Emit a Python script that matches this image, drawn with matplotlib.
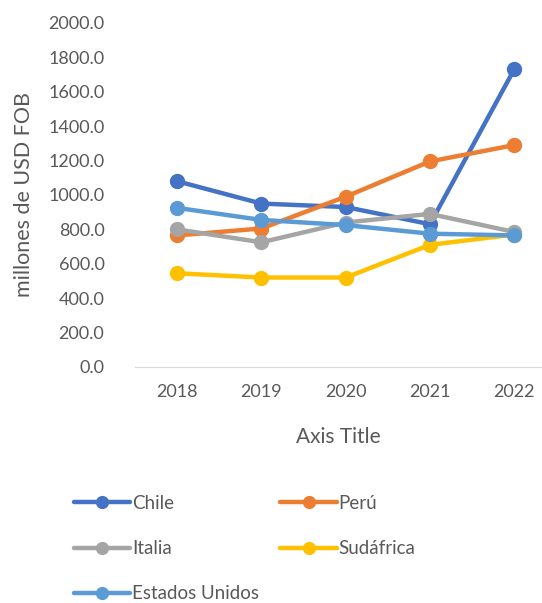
import matplotlib.pyplot as plt
import matplotlib as mpl

mpl.rcParams['font.family'] = ['Lato', 'DejaVu Sans']

years = ['2018', '2019', '2020', '2021', '2022']
series_names = ['Chile', 'Perú', 'Italia', 'Sudáfrica', 'Estados Unidos']
chile = [1080, 950, 930, 830, 1730]
peru = [765, 805, 990, 1195, 1290]
italia = [800, 725, 840, 890, 785]
sudafrica = [545, 520, 520, 710, 770]
eeuu = [925, 855, 825, 775, 765]
colors = ['#4472C4', '#ED7D31', '#A5A5A5', '#FFC000', '#5B9BD5']
txt = '#595959'

fig = plt.figure(figsize=(5.42, 6.03), dpi=100)
ax = fig.add_axes([0.249, 0.3914, 0.751, 0.5705])

x = range(len(years))
lines = {}
for name, vals, c in zip(series_names, [chile, peru, italia, sudafrica, eeuu], colors):
    ln, = ax.plot(x, vals, color=c, linewidth=3.2, marker='o', markersize=10,
                  label=name, solid_capstyle='round')
    lines[name] = ln

ax.set_xlim(-0.5, 4.33)
ax.set_ylim(0, 2000)
ax.set_yticks(range(0, 2001, 200))
ax.set_yticklabels([f'{v:.1f}' for v in range(0, 2001, 200)])
ax.set_xticks(list(x))
ax.set_xticklabels(years)
ax.tick_params(axis='both', length=0, labelsize=13, colors=txt, pad=12)
ax.tick_params(axis='y', pad=22)

for s in ['top', 'right', 'left']:
    ax.spines[s].set_visible(False)
ax.spines['bottom'].set_color('#D9D9D9')

ax.set_xlabel('Axis Title', fontsize=15, color=txt, labelpad=20)
ax.set_ylabel('millones de USD FOB', fontsize=15.5, color=txt, labelpad=10)

# row-major legend order (matplotlib fills columns first)
order = ['Chile', 'Italia', 'Estados Unidos', 'Perú', 'Sudáfrica']
fig.legend([lines[n] for n in order], order,
           loc='upper left', bbox_to_anchor=(0.105, 0.207), ncol=2, frameon=False,
           fontsize=13.5, labelcolor=txt, handlelength=3.0, handletextpad=0.1,
           columnspacing=1.15, labelspacing=1.5, markerscale=0.85)

plt.savefig('out.png', dpi=100)
